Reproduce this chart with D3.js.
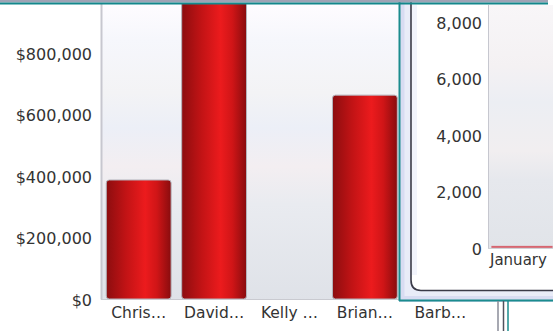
<!DOCTYPE html>
<html><head><meta charset="utf-8">
<script src="https://cdn.jsdelivr.net/npm/d3@7"></script>
<style>
html,body{margin:0;padding:0;background:#fff;overflow:hidden}
svg{display:block;font-family:"DejaVu Sans",Verdana,sans-serif}
</style></head>
<body>
<script>
// ---- data ----
const categories = ["Chris…", "David…", "Kelly …", "Brian…", "Barb…"];
const salesValues = [387000, 1000000, 0, 663000, 0];
const salesTicks = [0, 200000, 400000, 600000, 800000];
const months = ["January"];
const monthValues = [40];
const monthTicks = [0, 2000, 4000, 6000, 8000];

const W = 553, H = 331;
const svg = d3.select("body").append("svg").attr("width", W).attr("height", H);
const defs = svg.append("defs");

// gradients
const bg = defs.append("linearGradient").attr("id","plotbg").attr("x1",0).attr("y1",0).attr("x2",0).attr("y2",1);
[[0,"#fefcff"],[0.12,"#f6f7fc"],[0.3,"#f3f3f5"],[0.42,"#eceff7"],[0.55,"#f3eef1"],[0.68,"#e9ebf0"],[1,"#dfe2e8"]]
  .forEach(([o,c])=>bg.append("stop").attr("offset",o).attr("stop-color",c));
const bar = defs.append("linearGradient").attr("id","bargrad").attr("x1",0).attr("y1",0).attr("x2",1).attr("y2",0);
[[0,"#8c0d0f"],[0.3,"#c11315"],[0.6,"#ec1b1d"],[0.78,"#d01517"],[1,"#880c0e"]]
  .forEach(([o,c])=>bar.append("stop").attr("offset",o).attr("stop-color",c));
const bg2 = defs.append("linearGradient").attr("id","plotbg2").attr("x1",0).attr("y1",0).attr("x2",0).attr("y2",1);
[[0,"#f8f6f8"],[0.25,"#f4f1f3"],[0.4,"#eceef3"],[0.6,"#f1eef0"],[0.72,"#e6e8ed"],[1,"#e1e4e9"]]
  .forEach(([o,c])=>bg2.append("stop").attr("offset",o).attr("stop-color",c));

// ---- main chart ----
const plotL = 101, plotR = 478, plotT = 4, plotB = 299;
const x = d3.scaleBand().domain(categories).range([plotL, plotR]).paddingInner(0.14).paddingOuter(0.07);
const y = d3.scaleLinear().domain([0, 800000]).range([plotB, 53]);

svg.append("rect").attr("x",plotL).attr("y",plotT).attr("width",W-plotL).attr("height",plotB-plotT).attr("fill","url(#plotbg)");
defs.append("clipPath").attr("id","clipMain").append("rect").attr("x",plotL).attr("y",plotT).attr("width",plotR-plotL).attr("height",plotB-plotT);

svg.append("g").attr("clip-path","url(#clipMain)").selectAll("rect").data(categories).join("rect")
  .attr("x", d=>x(d)).attr("width", x.bandwidth())
  .attr("y", (d,i)=>y(salesValues[i])).attr("height",(d,i)=>Math.max(0, plotB - y(salesValues[i])))
  .attr("rx",3).attr("fill","url(#bargrad)").attr("stroke","#b4b4bc").attr("stroke-width",1)
  .style("display",(d,i)=>salesValues[i] > 0 ? null : "none");

svg.append("line").attr("x1",plotL+0.5).attr("x2",plotL+0.5).attr("y1",plotT).attr("y2",plotB+0.5).attr("stroke","#c7c7cf").attr("stroke-width",2);
svg.append("line").attr("x1",plotL).attr("x2",plotR+30).attr("y1",plotB+0.5).attr("y2",plotB+0.5).attr("stroke","#c9cad0");

const yAxis = svg.append("g").attr("transform",`translate(${plotL},0)`)
  .call(d3.axisLeft(y).tickValues(salesTicks).tickFormat(d3.format("$,.0f")).tickSize(0).tickPadding(9));
yAxis.select(".domain").remove();
yAxis.selectAll("text").attr("font-size",16).attr("font-family","DejaVu Sans").attr("fill","#333").attr("dy","0.4em");

const xAxis = svg.append("g").attr("transform",`translate(0,${plotB})`)
  .call(d3.axisBottom(x).tickSize(0).tickPadding(8));
xAxis.select(".domain").remove();
xAxis.selectAll("text").attr("font-size",15.5).attr("font-family","DejaVu Sans").attr("fill","#333");

// ---- overlapping window ----
const pan = svg.append("g");
pan.append("rect").attr("x",399).attr("y",0).attr("width",W-399+10).attr("height",302).attr("fill","#d8dcf2");
pan.append("rect").attr("x",404.5).attr("y",0).attr("width",W).attr("height",296).attr("fill","#e9ecf8");
pan.append("line").attr("x1",399.5).attr("x2",399.5).attr("y1",0).attr("y2",301).attr("stroke","#1b8c8e").attr("stroke-width",2);
pan.append("line").attr("x1",399).attr("x2",W).attr("y1",300.5).attr("y2",300.5).attr("stroke","#1b8c8e").attr("stroke-width",2);
pan.append("path")
  .attr("d",`M411,-2 L411,280 Q411,290.5 421,290.5 L${W+5},290.5 L${W+5},-2 Z`)
  .attr("fill","#ffffff").attr("stroke","#3a3a48").attr("stroke-width",1.6);
pan.append("rect").attr("x",412).attr("y",5).attr("width",5).attr("height",270).attr("fill","#f2f4fc");

const ix = d3.scaleBand().domain(months).range([488, 556]).paddingInner(0.1).paddingOuter(0.05);
const iy = d3.scaleLinear().domain([0, 8000]).range([248, 22]);
pan.append("rect").attr("x",488).attr("y",5).attr("width",W-488).attr("height",243).attr("fill","url(#plotbg2)");
pan.append("line").attr("x1",488.5).attr("x2",488.5).attr("y1",5).attr("y2",248).attr("stroke","#c6c7cf");
pan.append("line").attr("x1",488).attr("x2",W).attr("y1",248.5).attr("y2",248.5).attr("stroke","#d0d1d6");
pan.selectAll("rect.mb").data(months).join("rect").attr("class","mb")
  .attr("x",d=>ix(d)).attr("width",ix.bandwidth())
  .attr("y",(d,i)=>iy(monthValues[i]) - 1).attr("height",(d,i)=>Math.max(2, 248 - iy(monthValues[i])))
  .attr("fill","#d4505c").attr("opacity",0.85);

const iyAxis = pan.append("g").attr("transform","translate(488,0)")
  .call(d3.axisLeft(iy).tickValues(monthTicks).tickFormat(d3.format(",.0f")).tickSize(0).tickPadding(6));
iyAxis.select(".domain").remove();
iyAxis.selectAll("text").attr("font-size",16).attr("font-family","DejaVu Sans").attr("fill","#333").attr("dy","0.4em");
const ixAxis = pan.append("g").attr("transform","translate(0,248)")
  .call(d3.axisBottom(ix).tickSize(0).tickPadding(6));
ixAxis.select(".domain").remove();
ixAxis.selectAll("text").attr("font-size",15).attr("font-family","DejaVu Sans").attr("fill","#333")
  .attr("text-anchor","start").attr("x",d=>490 - (ix(d) + ix.bandwidth()/2));

// lines below the overlapping window
[[498,"#8a8c98"],[503.5,"#50525e"],[508,"#1b8c8e"]].forEach(([lx,c])=>
  svg.append("line").attr("x1",lx).attr("x2",lx).attr("y1",301).attr("y2",H).attr("stroke",c).attr("stroke-width",1.5));

// top frame
svg.append("rect").attr("x",0).attr("y",0).attr("width",548).attr("height",2.5).attr("fill","#9fa3b5");
svg.append("rect").attr("x",0).attr("y",2.5).attr("width",548).attr("height",2).attr("fill","#13878b");
</script>
</body></html>
